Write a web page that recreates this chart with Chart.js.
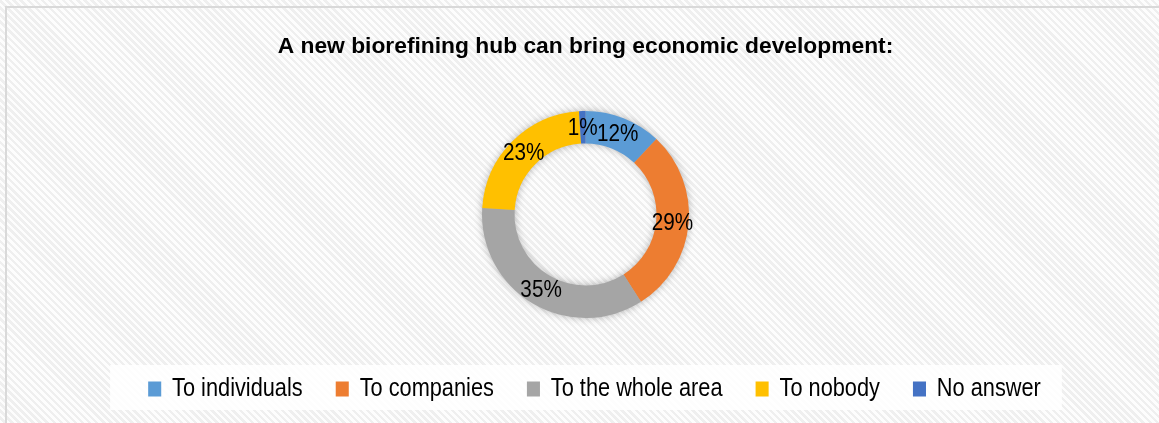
<!DOCTYPE html>
<html>
<head>
<meta charset="utf-8">
<script src="https://cdn.jsdelivr.net/npm/chart.js@4/dist/chart.umd.min.js"></script>
<style>
  html, body { margin: 0; padding: 0; }
  body {
    width: 1159px; height: 423px; overflow: hidden; position: relative;
    background: repeating-linear-gradient(45deg, #fdfdfd 0px, #fdfdfd 2.5px, #efefef 2.5px, #efefef 5px);
  }
  #frame {
    position: absolute; left: 5px; top: 6px; width: 1200px; height: 500px;
    border-top: 2px solid #d9d9d9; border-left: 2px solid #d9d9d9;
  }
  #wrap { position: absolute; left: 0; top: 0; width: 1159px; height: 423px; }
</style>
</head>
<body>
<div id="frame"></div>
<div id="wrap"><canvas id="myChart"></canvas></div>
<script>
const categories = ['To individuals', 'To companies', 'To the whole area', 'To nobody', 'No answer'];
const shares = [12, 29, 35, 23, 1];
const sliceColors = ['#5b9bd5', '#ed7d31', '#a5a5a5', '#ffc000', '#4472c4'];
const chartTitle = 'A new biorefining hub can bring economic development:';

const FONT = '"Liberation Sans", Arial, sans-serif';
const LEGEND_SQUEEZE = 0.87;   // legend text is set narrow
const LEGEND_SHIFT = 9;        // items sit a little right of the panel centre
const LABEL_SQUEEZE = 0.9;
const LEGEND_PAD = 38;
const LEGEND_SIZE = 25;

// soft shadow under the ring + the narrow legend with its pale panel
var ringExtras = {
    id: 'ringExtras',
    beforeDraw(chart) {
        const lg = chart.legend;
        if (!lg) return;
        const cx = (chart.chartArea.left + chart.chartArea.right) / 2;
        if (!lg._squeezed) {
            const orig = lg.draw.bind(lg);
            lg.draw = function () {
                const c = chart.ctx;
                c.save();
                c.translate(cx + LEGEND_SHIFT, 1);
                c.scale(LEGEND_SQUEEZE, 1);
                c.translate(-cx, 0);
                orig();
                c.restore();
            };
            lg._squeezed = true;
        }
        const boxes = lg.legendHitBoxes;
        if (boxes && boxes.length) {
            const first = boxes[0], last = boxes[boxes.length - 1];
            const x0 = cx + LEGEND_SHIFT + LEGEND_SQUEEZE * (first.left - cx) - 38;
            const x1 = cx + LEGEND_SHIFT + LEGEND_SQUEEZE * (last.left + last.width - cx) + 21;
            const mid = lg.top + LEGEND_PAD + LEGEND_SIZE / 2;
            const ctx = chart.ctx;
            ctx.save();
            ctx.fillStyle = 'rgba(255,255,255,0.85)';
            ctx.fillRect(x0, mid - 23, x1 - x0, 45);
            ctx.restore();
        }
    },
    beforeDatasetsDraw(chart) {
        const arc = chart.getDatasetMeta(0).data[0];
        if (!arc) return;
        const p = arc.getProps(['x', 'y', 'innerRadius', 'outerRadius'], true);
        const ctx = chart.ctx;
        ctx.save();
        ctx.shadowColor = 'rgba(0,0,0,0.35)';
        ctx.shadowBlur = 9;
        ctx.fillStyle = '#b0b0b0';
        ctx.beginPath();
        ctx.arc(p.x, p.y, p.outerRadius - 1, 0, Math.PI * 2);
        ctx.arc(p.x, p.y, p.innerRadius + 1, 0, Math.PI * 2, true);
        ctx.fill('evenodd');
        ctx.restore();
    },
    afterDatasetsDraw(chart) {
        const ctx = chart.ctx;
        const meta = chart.getDatasetMeta(0);
        ctx.save();
        ctx.font = '23px ' + FONT;
        ctx.fillStyle = '#000';
        ctx.textAlign = 'center';
        ctx.textBaseline = 'middle';
        meta.data.forEach((arc, i) => {
            const pos = arc.tooltipPosition();
            ctx.save();
            ctx.translate(pos.x, pos.y + 1);
            ctx.scale(LABEL_SQUEEZE, 1);
            ctx.fillText(shares[i] + '%', 0, 0);
            ctx.restore();
        });
        ctx.restore();
    }
};

const ctx = document.getElementById('myChart').getContext('2d');
var myChart = new Chart(ctx, {
    type: 'doughnut',
    data: {
        labels: categories,
        datasets: [{
            data: shares,
            backgroundColor: sliceColors,
            borderWidth: 0,
            radius: 103.5,
            cutout: '68.6%'
        }]
    },
    options: {
        responsive: true,
        maintainAspectRatio: false,
        animation: false,
        layout: {
            padding: { left: 12, right: 0, top: 0, bottom: 12.5 }
        },
        plugins: {
            title: {
                display: true,
                text: chartTitle,
                color: '#000',
                font: { family: FONT, size: 22.8, weight: 'bold' },
                padding: { top: 33, bottom: 31.1 }
            },
            legend: {
                position: 'bottom',
                labels: {
                    color: '#000',
                    font: { family: FONT, size: LEGEND_SIZE },
                    boxWidth: 15,
                    boxHeight: 15,
                    padding: LEGEND_PAD
                }
            },
            tooltip: { enabled: false }
        }
    },
    plugins: [ringExtras]
});
</script>
</body>
</html>
